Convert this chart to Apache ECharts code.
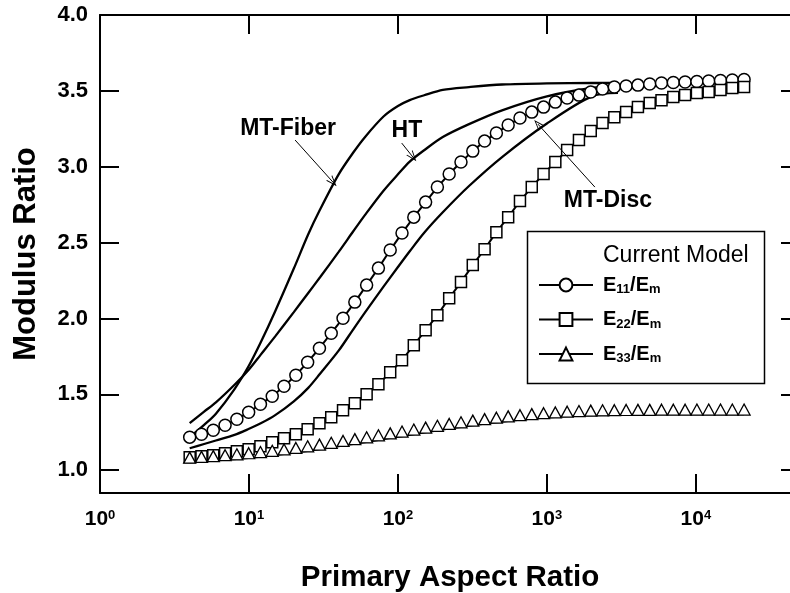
<!DOCTYPE html>
<html><head><meta charset="utf-8">
<script src="https://cdn.jsdelivr.net/npm/echarts@6/dist/echarts.min.js"></script>
<style>html,body{margin:0;padding:0;background:#fff}#c{width:790px;height:593px}</style>
</head><body><div id="c"></div>
<script>
// ---- data ----
const aspectRatio = [4, 4.8, 5.76, 6.912, 8.294, 9.953, 11.94, 14.33, 17.20, 20.64, 24.77, 29.72, 35.66, 42.80, 51.36, 61.63, 73.95, 88.74, 106.5, 127.8, 153.4, 184.0, 220.8, 265.0, 318.0, 381.6, 457.9, 549.5, 659.4, 791.3, 949.5, 1139, 1367, 1641, 1969, 2363, 2835, 3402, 4083, 4899, 5879, 7055, 8466, 10159, 12191, 14629, 17555, 21066];
const e11 = [1.218,1.237,1.264,1.297,1.336,1.382,1.435,1.488,1.554,1.626,1.712,1.804,1.903,2.002,2.108,2.220,2.332,2.451,2.563,2.668,2.767,2.866,2.952,3.031,3.103,3.169,3.222,3.275,3.321,3.360,3.393,3.426,3.453,3.472,3.492,3.512,3.525,3.532,3.538,3.545,3.552,3.555,3.558,3.562,3.565,3.569,3.572,3.575];
const e22 = [1.086,1.092,1.099,1.112,1.125,1.138,1.158,1.185,1.211,1.237,1.270,1.310,1.349,1.396,1.442,1.501,1.567,1.646,1.725,1.824,1.923,2.022,2.134,2.240,2.352,2.457,2.569,2.668,2.774,2.866,2.952,3.031,3.110,3.176,3.235,3.288,3.327,3.360,3.393,3.420,3.439,3.459,3.472,3.486,3.492,3.505,3.519,3.525];
const e33 = [1.050,1.055,1.060,1.066,1.072,1.079,1.087,1.095,1.104,1.114,1.125,1.136,1.148,1.160,1.172,1.184,1.197,1.210,1.222,1.235,1.248,1.260,1.272,1.283,1.294,1.304,1.313,1.322,1.330,1.337,1.343,1.348,1.353,1.357,1.360,1.362,1.363,1.364,1.365,1.365,1.366,1.366,1.366,1.367,1.367,1.367,1.367,1.367];

const theoryAR = [4,5,6,8,10,12,15,20,25,30,40,50,60,80,100,120,150,200,300,500,1000,2000,3000];
const mtFiber = [1.218,1.299,1.373,1.535,1.690,1.843,2.048,2.329,2.555,2.718,2.950,3.092,3.195,3.331,3.400,3.439,3.471,3.507,3.525,3.542,3.550,3.552,3.552];
const halpinTsai = [1.310,1.386,1.447,1.563,1.664,1.762,1.882,2.042,2.168,2.272,2.439,2.573,2.681,2.842,2.950,3.034,3.109,3.196,3.281,3.372,3.464,3.519,3.532];
const mtDisc = [1.145,1.173,1.196,1.233,1.273,1.309,1.363,1.454,1.543,1.636,1.788,1.927,2.039,2.210,2.339,2.443,2.565,2.700,2.873,3.064,3.285,3.464,3.487];

const yTicks = [1.0,1.5,2.0,2.5,3.0,3.5,4.0];
const legendNames = ['E11/Em','E22/Em','E33/Em'];
const annotationNames = ['MT-Fiber','HT','MT-Disc'];
const annotationAt = [[18.3,3.248],[114.8,3.235],[2567,2.774]];
const arrowFrom = [[20.4,3.176],[106,3.156],[2099,2.866]];
const arrowTo = [[36.6,2.899],[126,3.064],[870,3.281]];

// ---- chart ----
const FONT = '"Liberation Sans", Arial, Helvetica, sans-serif';
const zip = (xs, ys) => xs.map((x, i) => [x, ys[i]]);
const black = '#000';

const axisLineStyle = {show:true, lineStyle:{color:black, width:2}};
const tickStyle = {show:true, inside:true, length:19, lineStyle:{color:black, width:2}};

const theory = (name, ys) => ({
  name, type:'line', data: zip(theoryAR, ys), symbol:'none',
  smooth:0.3,
  lineStyle:{color:black, width:2.3}, z:2, silent:true
});

const option = {
  backgroundColor:'#fff',
  animation:false,
  grid:{left:100, top:15, right:-10, bottom:100, outerBoundsMode:'none', containLabel:false},
  xAxis:[{
    type:'log', logBase:10, min:1, max:50000, position:'bottom',
    axisLine:axisLineStyle, axisTick:tickStyle, splitLine:{show:false}, minorTick:{show:false},
    axisLabel:{
      margin:16, showMaxLabel:false,
      formatter: v => '{b|10}{s|' + Math.round(Math.log10(v)) + '}',
      rich:{
        b:{fontSize:21, fontWeight:'bold', fontFamily:FONT, color:black},
        s:{fontSize:13, fontWeight:'bold', fontFamily:FONT, color:black, verticalAlign:'top'}
      }
    },
    name:'Primary Aspect Ratio', nameLocation:'middle', nameGap:70,
    nameTextStyle:{fontSize:29.5, fontWeight:'bold', fontFamily:FONT, color:black}
  },{
    type:'log', logBase:10, min:1, max:50000, position:'top',
    axisLine:axisLineStyle, axisTick:tickStyle, axisLabel:{show:false}, splitLine:{show:false}
  }],
  yAxis:[{
    type:'value', min:0.85, max:4, position:'left',
    axisLine:axisLineStyle,
    axisTick:Object.assign({customValues:yTicks}, tickStyle),
    axisLabel:{customValues:yTicks, margin:12, formatter: v => v.toFixed(1),
      fontSize:22, fontWeight:'bold', fontFamily:FONT, color:black},
    splitLine:{show:false},
    name:'Modulus Ratio', nameLocation:'middle', nameGap:58, nameRotate:90,
    nameTextStyle:{fontSize:31, fontWeight:'bold', fontFamily:FONT, color:black}
  },{
    type:'value', min:0.85, max:4, position:'right',
    axisLine:axisLineStyle,
    axisTick:Object.assign({customValues:yTicks}, tickStyle),
    axisLabel:{show:false}, splitLine:{show:false}
  }],
  legend:{
    show:true, data:legendNames, orient:'vertical', left:538, top:275,
    itemWidth:54, itemHeight:16, itemGap:13.5, padding:0, selectedMode:false,
    formatter: n => { const m = n.match(/E(\d+)\/Em/); return '{p|}{b|E}{s|' + m[1] + '}{b|/E}{s|m}'; },
    textStyle:{rich:{
      p:{width:5},
      b:{fontSize:20, fontWeight:'bold', fontFamily:FONT, color:black, lineHeight:22},
      s:{fontSize:13, fontWeight:'bold', fontFamily:FONT, color:black, verticalAlign:'bottom', lineHeight:22}
    }}
  },
  graphic:[
    {type:'rect', left:525, top:229, shape:{width:237, height:152}, style:{fill:'none', stroke:black, lineWidth:1.5}, z:10},
    {type:'text', left:603, top:244, style:{text:'Current Model', font:'23px "Liberation Sans", Arial, sans-serif', fill:black}, z:10}
  ],
  series:[
    theory('MT-Fiber curve', mtFiber),
    theory('HT curve', halpinTsai),
    theory('MT-Disc curve', mtDisc),
    {
      name:legendNames[0], type:'line', data:zip(aspectRatio, e11),
      symbol:'circle', symbolSize:12, showAllSymbol:true,
      itemStyle:{color:'#fff', borderColor:black, borderWidth:1.5},
      lineStyle:{color:black, width:2}, z:3, silent:true
    },
    {
      name:legendNames[1], type:'line', data:zip(aspectRatio, e22),
      symbol:'rect', symbolSize:11, showAllSymbol:true,
      itemStyle:{color:'#fff', borderColor:black, borderWidth:1.5},
      lineStyle:{color:black, width:2}, z:4, silent:true
    },
    {
      name:legendNames[2], type:'line', data:zip(aspectRatio, e33),
      symbol:'triangle', symbolSize:[12,11], symbolOffset:[0,-5], showAllSymbol:true,
      itemStyle:{color:'#fff', borderColor:black, borderWidth:1.3},
      lineStyle:{color:black, width:1.3}, z:5, silent:true
    },
    {
      name:'annotations', type:'scatter', silent:true, z:6,
      data: annotationNames.map((n, i) => ({name:n, value:annotationAt[i]})),
      symbolSize:1, itemStyle:{color:'rgba(255,255,255,0)', opacity:1},
      label:{show:true, position:'inside', formatter:'{b}', fontSize:23, fontWeight:'bold', fontFamily:FONT, color:black, opacity:1},
      markLine:{
        silent:true, animation:false,
        symbol:['none','path://M5,0 L10,11 L8.8,11 L5,2.6 L1.2,11 L0,11 Z'], symbolSize:[8,11],
        lineStyle:{color:black, width:1, type:'solid', opacity:1}, label:{show:false},
        emphasis:{disabled:true},
        data: annotationNames.map((n, i) => [{coord:arrowFrom[i]}, {coord:arrowTo[i]}])
      }
    }
  ]
};

const chart = echarts.init(document.getElementById('c'), null, {renderer:'canvas'});
chart.setOption(option);
</script>
</body></html>
